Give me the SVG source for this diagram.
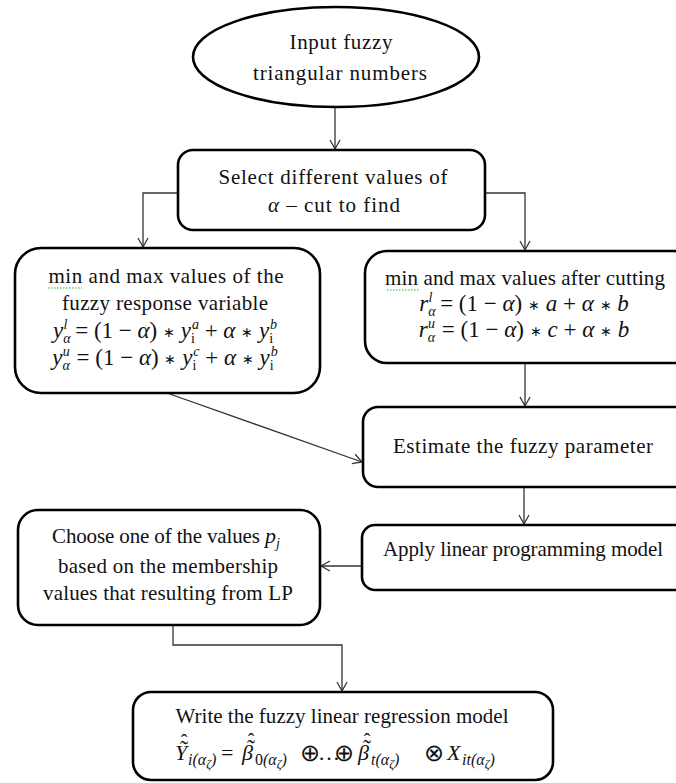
<svg xmlns="http://www.w3.org/2000/svg" width="676" height="783" viewBox="0 0 676 783">
<defs>
<style>
.box{fill:#fff;stroke:#000;stroke-width:2.6}
.t{font-family:"Liberation Serif","Times New Roman",serif;font-size:21px;fill:#111;text-anchor:middle}
.ts{font-family:"Liberation Serif","Times New Roman",serif;font-size:21px;fill:#111}
.m{font-family:"Liberation Serif","Times New Roman",serif;font-size:23px;fill:#111;text-anchor:middle}
.ms{font-family:"Liberation Serif","Times New Roman",serif;font-size:22px;fill:#111}
.ac{font-family:"Liberation Serif","Times New Roman",serif;fill:#111;text-anchor:middle}
.tl{font-size:24px}
.ht{font-size:20px}
.i{font-style:italic}
.s{font-size:14px}
.w{font-size:16px}
.ss{font-size:12px}
.st{font-size:14px}
.op{font-size:24px}
.c{fill:none;stroke:#333;stroke-width:1.3}
.sq{fill:none;stroke:#3a3;stroke-width:1.2;stroke-dasharray:1.5 1.5}
</style>
<marker id="ah" markerWidth="12" markerHeight="12" refX="10" refY="6" orient="auto" markerUnits="userSpaceOnUse">
<path d="M1,1 L10,6 L1,11" fill="none" stroke="#333" stroke-width="1.3"/>
</marker>
</defs>
<rect width="676" height="783" fill="#fff"/>

<g id="connectors">
<path class="c" d="M335,107 L335,149" marker-end="url(#ah)"/>
<path class="c" d="M178,193 L143,193 L143,247" marker-end="url(#ah)"/>
<path class="c" d="M485,193 L525,193 L525,250" marker-end="url(#ah)"/>
<path class="c" d="M525,363 L525,406" marker-end="url(#ah)"/>
<path class="c" d="M167,393 L362,462" marker-end="url(#ah)"/>
<path class="c" d="M524,487 L524,524" marker-end="url(#ah)"/>
<path class="c" d="M362,566 L321,566" marker-end="url(#ah)"/>
<path class="c" d="M173,625 L173,645 L342,645 L342,691" marker-end="url(#ah)"/>
</g>

<g id="input">
<ellipse class="box" cx="336" cy="57" rx="143" ry="50"/>
<text class="t" x="341" y="49" textLength="103" lengthAdjust="spacing">Input fuzzy</text>
<text class="t" x="340" y="80" textLength="174" lengthAdjust="spacing">triangular numbers</text>
</g>

<g id="select">
<rect class="box" x="178" y="150" width="307" height="80" rx="15"/>
<text class="t" x="333" y="184" textLength="229" lengthAdjust="spacing">Select different values of</text>
<text class="t" x="334" y="212" font-size="23" textLength="132" lengthAdjust="spacing"><tspan class="i">α</tspan> – cut to find</text>
</g>

<g id="minmax-response">
<rect class="box" x="15" y="248" width="305" height="145" rx="26"/>
<text class="t" x="166" y="283" textLength="235" lengthAdjust="spacing">min and max values of the</text>
<path class="sq" d="M48,288 L82,288"/>
<text class="t" x="165" y="310" textLength="206" lengthAdjust="spacing">fuzzy response variable</text>
<text class="m" x="165" y="338"><tspan class="i">y</tspan><tspan class="s i" dy="5">α</tspan><tspan class="s i" dx="-7" dy="-14">l</tspan><tspan dy="9" dx="2"> = (1 − </tspan><tspan class="i">α</tspan><tspan>) </tspan><tspan class="st" dy="-1">∗</tspan><tspan dy="1"> </tspan><tspan class="i">y</tspan><tspan class="s" dy="5">i</tspan><tspan class="s i" dx="-3" dy="-14">a</tspan><tspan dy="9"> + </tspan><tspan class="i">α</tspan><tspan> </tspan><tspan class="st" dy="-1">∗</tspan><tspan dy="1"> </tspan><tspan class="i">y</tspan><tspan class="s" dy="5">i</tspan><tspan class="s i" dx="-3" dy="-14">b</tspan></text>
<text class="m" x="165" y="365"><tspan class="i">y</tspan><tspan class="s i" dy="5">α</tspan><tspan class="s i" dx="-7" dy="-14">u</tspan><tspan dy="9" dx="1"> = (1 − </tspan><tspan class="i">α</tspan><tspan>) </tspan><tspan class="st" dy="-1">∗</tspan><tspan dy="1"> </tspan><tspan class="i">y</tspan><tspan class="s" dy="5">i</tspan><tspan class="s i" dx="-3" dy="-14">c</tspan><tspan dy="9"> + </tspan><tspan class="i">α</tspan><tspan> </tspan><tspan class="st" dy="-1">∗</tspan><tspan dy="1"> </tspan><tspan class="i">y</tspan><tspan class="s" dy="5">i</tspan><tspan class="s i" dx="-3" dy="-14">b</tspan></text>
</g>

<g id="minmax-cutting">
<rect class="box" x="365" y="251" width="330" height="112" rx="22"/>
<text class="t" x="525" y="285" textLength="280" lengthAdjust="spacing">min and max values after cutting</text>
<path class="sq" d="M387,290 L420,290"/>
<text class="m" x="524" y="311"><tspan class="i">r</tspan><tspan class="s i" dy="5">α</tspan><tspan class="s i" dx="-7" dy="-14">l</tspan><tspan dy="9" dx="2"> = (1 − </tspan><tspan class="i">α</tspan><tspan>) </tspan><tspan class="st" dy="-1">∗</tspan><tspan dy="1"> </tspan><tspan class="i">a</tspan><tspan> + </tspan><tspan class="i">α</tspan><tspan> </tspan><tspan class="st" dy="-1">∗</tspan><tspan dy="1"> </tspan><tspan class="i">b</tspan></text>
<text class="m" x="524" y="337"><tspan class="i">r</tspan><tspan class="s i" dy="5">α</tspan><tspan class="s i" dx="-7" dy="-14">u</tspan><tspan dy="9" dx="1"> = (1 − </tspan><tspan class="i">α</tspan><tspan>) </tspan><tspan class="st" dy="-1">∗</tspan><tspan dy="1"> </tspan><tspan class="i">c</tspan><tspan> + </tspan><tspan class="i">α</tspan><tspan> </tspan><tspan class="st" dy="-1">∗</tspan><tspan dy="1"> </tspan><tspan class="i">b</tspan></text>
</g>

<g id="estimate">
<rect class="box" x="363" y="407" width="330" height="80" rx="15"/>
<text class="t" x="523" y="453" textLength="260" lengthAdjust="spacing">Estimate the fuzzy parameter</text>
</g>

<g id="apply">
<rect class="box" x="362" y="525" width="330" height="65" rx="13"/>
<text class="t" x="523" y="556" textLength="280" lengthAdjust="spacing">Apply linear programming model</text>
</g>

<g id="choose">
<rect class="box" x="18" y="510" width="302" height="115" rx="20"/>
<text class="ts" x="52" y="543" textLength="208" lengthAdjust="spacing">Choose one of the values</text>
<text class="ms i" x="265" y="543">p<tspan class="s" dy="5">j</tspan></text>
<text class="t" x="168" y="573" textLength="220" lengthAdjust="spacing">based on the membership</text>
<text class="t" x="168" y="600" textLength="250" lengthAdjust="spacing">values that resulting from LP</text>
</g>

<g id="write">
<rect class="box" x="133" y="692" width="420" height="88" rx="18"/>
<text class="t" x="342" y="723" textLength="333" lengthAdjust="spacing">Write the fuzzy linear regression model</text>
<text class="ms i" x="175" y="760">Y</text>
<text class="ac tl" x="184" y="757">˜</text>
<text class="ac ht" x="184" y="749">ˆ</text>
<text class="ms i w" x="188" y="765">i(α<tspan class="ss" dy="3">ζ</tspan><tspan dy="-3">)</tspan></text>
<text class="ms" x="221" y="760">=</text>
<text class="ms i" x="242" y="760">β</text>
<text class="ac tl" x="251" y="756">˜</text>
<text class="ac ht" x="251" y="748">ˆ</text>
<text class="ms w" x="255" y="765">0<tspan class="i">(α</tspan><tspan class="ss i" dy="3">ζ</tspan><tspan class="i" dy="-3">)</tspan></text>
<text class="ms op" x="300" y="761">⊕</text>
<text class="ms" x="318" y="760" font-size="17">…</text>
<text class="ms op" x="334" y="761">⊕</text>
<text class="ms i" x="358" y="760">β</text>
<text class="ac tl" x="367" y="756">˜</text>
<text class="ac ht" x="367" y="748">ˆ</text>
<text class="ms i w" x="371" y="765">t(α<tspan class="ss" dy="3">ζ</tspan><tspan dy="-3">)</tspan></text>
<text class="ms op" x="424" y="761">⊗</text>
<text class="ms i" x="447" y="760">X</text>
<text class="ms i w" x="462" y="765">it(α<tspan class="ss" dy="3">ζ</tspan><tspan dy="-3">)</tspan></text>
</g>
</svg>
